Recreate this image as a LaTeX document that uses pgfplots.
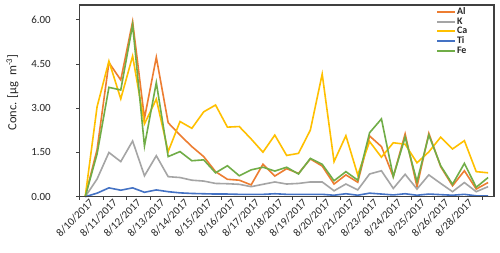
\documentclass[border=0pt]{standalone}
\usepackage{pgfplots}
\pgfplotsset{compat=1.18}
\usepackage{pgfplotstable}
\usepackage{fontspec}
\setmainfont{Carlito}
\definecolor{cAl}{HTML}{ED7D31}
\definecolor{cK}{HTML}{A5A5A5}
\definecolor{cCa}{HTML}{FFC000}
\definecolor{cTi}{HTML}{4472C4}
\definecolor{cFe}{HTML}{70AD47}
\definecolor{axframe}{HTML}{404040}
\pgfplotstableread{
i Al K Ca Ti Fe
1 0 0 0 0 0
2 1.60 0.60 3.05 0.12 1.45
3 4.55 1.50 4.60 0.30 3.71
4 3.96 1.19 3.32 0.22 3.62
5 5.94 1.89 4.77 0.30 5.83
6 2.66 0.71 2.47 0.15 1.72
7 4.73 1.39 3.31 0.23 3.87
8 2.51 0.68 1.53 0.17 1.36
9 2.09 0.65 2.55 0.13 1.53
10 1.70 0.56 2.32 0.11 1.22
11 1.36 0.53 2.88 0.10 1.25
12 0.85 0.45 3.11 0.09 0.81
13 0.59 0.44 2.36 0.09 1.05
14 0.56 0.42 2.38 0.08 0.71
15 0.40 0.34 1.96 0.08 0.91
16 1.10 0.42 1.51 0.08 1.00
17 0.70 0.50 2.09 0.10 0.87
18 0.95 0.43 1.40 0.08 1.00
19 0.79 0.45 1.47 0.08 0.77
20 1.28 0.50 2.26 0.08 1.30
21 1.04 0.50 4.16 0.08 1.10
22 0.43 0.20 1.19 0.05 0.54
23 0.74 0.43 2.07 0.10 0.85
24 0.49 0.23 0.74 0.05 0.56
25 2.06 0.77 1.87 0.12 2.17
26 1.70 0.88 1.34 0.09 2.64
27 0.68 0.28 1.83 0.06 0.68
28 2.13 0.76 1.78 0.10 2.02
29 0.34 0.26 1.15 0.05 0.51
30 2.15 0.74 1.52 0.09 2.09
31 1.02 0.45 2.02 0.07 1.05
32 0.37 0.17 1.62 0.05 0.42
33 0.88 0.48 1.90 0.08 1.13
34 0.26 0.17 0.85 0.03 0.32
35 0.48 0.34 0.81 0.03 0.65
}\datatable
\begin{document}
\begin{tikzpicture}
\fill[white] (0,0) rectangle (500bp,253bp);
\begin{axis}[
  at={(79.3bp,56.3bp)}, anchor=south west,
  scale only axis, width=414.7bp, height=191.6bp,
  xmin=0.5, xmax=35.5, ymin=0, ymax=6.5,
  axis line style={draw=axframe, line width=1.2bp},
  tick align=outside, xtick pos=bottom, ytick pos=left,
  major tick length=3bp,
  tick style={draw=axframe, line width=0.8bp},
  ytick={0,1.5,3,4.5,6},
  /pgf/number format/.cd, fixed, fixed zerofill, precision=2, assume math mode=true, /pgfplots/.cd,
  yticklabel style={font=\fontsize{11}{13}\selectfont, text=black!85, xshift=-22bp},
  xtick={0.5,2.5,...,34.5},
  xticklabels={},
  extra x ticks={1,3,...,33},
  extra x tick labels={8/10/2017,8/11/2017,8/12/2017,8/13/2017,8/14/2017,8/15/2017,8/16/2017,8/17/2017,8/18/2017,8/19/2017,8/20/2017,8/21/2017,8/23/2017,8/24/2017,8/25/2017,8/26/2017,8/28/2017},
  extra x tick style={major tick length=0pt, tick style={draw=none}},
  xticklabel style={rotate=45, anchor=north east, font=\fontsize{11}{13}\selectfont, text=black!85, inner sep=0.5bp, xshift=2bp, yshift=-3bp},
  legend style={at={(rel axis cs:0.853,1.005)}, anchor=north west, draw=none, fill=none,
    font=\fontsize{10}{12}\selectfont\bfseries, row sep=-1.5bp,
    nodes={inner sep=1.5bp, text=black!85}},
  legend cell align=left,
  legend image code/.code={\draw[#1] (0bp,0bp) -- (17.7bp,0bp);},
  every axis plot/.append style={line width=1.6bp},
  clip=false,
]
\addplot[cAl] table[x=i,y=Al]{\datatable};
\addplot[cK] table[x=i,y=K]{\datatable};
\addplot[cCa] table[x=i,y=Ca]{\datatable};
\addplot[cTi] table[x=i,y=Ti]{\datatable};
\addplot[cFe] table[x=i,y=Fe]{\datatable};
\legend{Al,K,Ca,Ti,Fe}
\node[rotate=90, font=\fontsize{12.5}{14}\selectfont, text=black!85] at (axis description cs:-0.161,0.544) {Conc. [µg\enspace m\textsuperscript{-3}]};
\end{axis}
\draw[axframe, line width=1.3bp] (79.3bp,56.3bp) rectangle (494bp,247.9bp);
\end{tikzpicture}
\end{document}
